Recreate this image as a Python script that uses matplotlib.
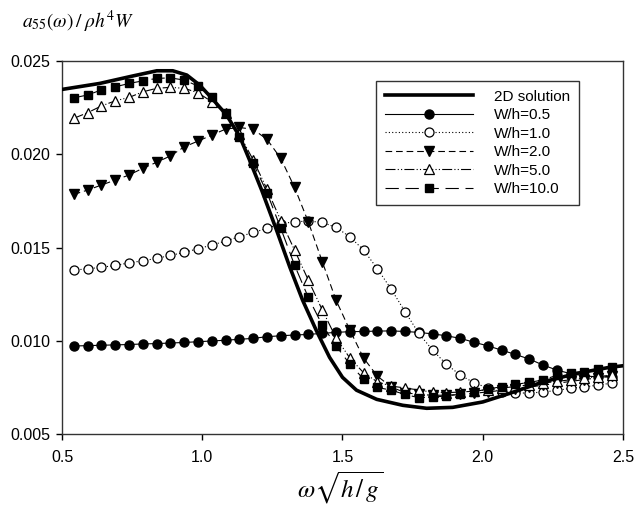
import matplotlib
matplotlib.use('Agg')
import matplotlib.pyplot as plt

plt.rcParams['font.family'] = ['Liberation Sans', 'DejaVu Sans']
plt.rcParams['mathtext.fontset'] = 'stix'

# frequency grid shared by the 3D results
omega = [0.542, 0.591, 0.640, 0.690, 0.739, 0.788, 0.837, 0.886, 0.936, 0.985,
         1.034, 1.083, 1.132, 1.182, 1.231, 1.280, 1.329, 1.378, 1.428, 1.477,
         1.526, 1.575, 1.624, 1.674, 1.723, 1.772, 1.821, 1.870, 1.920, 1.969,
         2.018, 2.067, 2.116, 2.166, 2.215, 2.264, 2.313, 2.362, 2.412, 2.461]

wh_05 = [0.00972, 0.00974, 0.00976, 0.00978, 0.00980, 0.00983, 0.00985, 0.00988, 0.00991, 0.00995,
         0.00999, 0.01003, 0.01008, 0.01013, 0.01022, 0.01027, 0.01031, 0.01034, 0.01040, 0.01045,
         0.01049, 0.01050, 0.01052, 0.01053, 0.01050, 0.01045, 0.01037, 0.01027, 0.01013, 0.00992,
         0.00973, 0.00950, 0.00927, 0.00902, 0.00870, 0.00843, 0.00824, 0.00812, 0.00806, 0.00806]

wh_10 = [0.01379, 0.01386, 0.01394, 0.01404, 0.01418, 0.01429, 0.01442, 0.01458, 0.01474, 0.01494,
         0.01513, 0.01535, 0.01558, 0.01581, 0.01603, 0.01628, 0.01638, 0.01642, 0.01635, 0.01608,
         0.01558, 0.01487, 0.01387, 0.01276, 0.01156, 0.01040, 0.00950, 0.00875, 0.00816, 0.00775,
         0.00747, 0.00727, 0.00720, 0.00720, 0.00725, 0.00734, 0.00745, 0.00752, 0.00763, 0.00773]

wh_20 = [0.01785, 0.01808, 0.01835, 0.01862, 0.01889, 0.01925, 0.01957, 0.01991, 0.02040, 0.02071,
         0.02103, 0.02135, 0.02144, 0.02134, 0.02080, 0.01978, 0.01823, 0.01638, 0.01424, 0.01218,
         0.01058, 0.00908, 0.00811, 0.00752, 0.00722, 0.00712, 0.00708, 0.00708, 0.00712, 0.00718,
         0.00726, 0.00734, 0.00742, 0.00752, 0.00762, 0.00772, 0.00782, 0.00792, 0.00802, 0.00812]

wh_50 = [0.02193, 0.02223, 0.02259, 0.02287, 0.02305, 0.02335, 0.02354, 0.02359, 0.02354, 0.02330,
         0.02282, 0.02220, 0.02109, 0.01969, 0.01812, 0.01645, 0.01487, 0.01326, 0.01165, 0.01016,
         0.00908, 0.00829, 0.00780, 0.00757, 0.00747, 0.00736, 0.00724, 0.00722, 0.00725, 0.00730,
         0.00738, 0.00746, 0.00755, 0.00764, 0.00773, 0.00782, 0.00791, 0.00800, 0.00808, 0.00816]

wh_100 = [0.02303, 0.02318, 0.02345, 0.02362, 0.02380, 0.02394, 0.02407, 0.02410, 0.02398, 0.02366,
          0.02309, 0.02223, 0.02094, 0.01951, 0.01794, 0.01603, 0.01406, 0.01233, 0.01084, 0.00973,
          0.00875, 0.00795, 0.00750, 0.00735, 0.00712, 0.00695, 0.00698, 0.00704, 0.00714, 0.00727,
          0.00741, 0.00754, 0.00766, 0.00777, 0.00790, 0.00815, 0.00829, 0.00834, 0.00847, 0.00861]

# 2D strip-theory curve
omega_2d = [0.50, 0.634, 0.752, 0.838, 0.895, 0.945, 0.991, 1.037, 1.087, 1.134,
            1.169, 1.212, 1.265, 1.312, 1.358, 1.408, 1.454, 1.500, 1.550, 1.622,
            1.715, 1.800, 1.893, 2.000, 2.096, 2.214, 2.335, 2.453, 2.50]
a55_2d = [0.02348, 0.02380, 0.02420, 0.02448, 0.02448, 0.02425, 0.02371, 0.02296, 0.02210, 0.02094,
          0.01968, 0.01807, 0.01593, 0.01396, 0.01217, 0.01051, 0.00911, 0.00804, 0.00735, 0.00686,
          0.00654, 0.00638, 0.00643, 0.00672, 0.00718, 0.00779, 0.00825, 0.00858, 0.00866]

fig = plt.figure(figsize=(6.36, 5.09), dpi=100)
ax = fig.add_axes([0.0975, 0.1473, 0.882, 0.7327])

ax.plot(omega_2d, a55_2d, color='black', lw=2.6, label='2D solution', zorder=5)
ax.plot(omega, wh_05, color='black', lw=0.8, ls='-', marker='o', ms=6.5,
        mfc='black', mec='black', label='W/h=0.5')
ax.plot(omega, wh_10, color='black', lw=0.8, ls=(0, (1, 2)), marker='o', ms=6.5,
        mfc='white', mec='black', mew=0.9, label='W/h=1.0')
ax.plot(omega, wh_20, color='black', lw=0.8, ls=(0, (6, 3.5)), marker='v', ms=7,
        mfc='black', mec='black', label='W/h=2.0')
ax.plot(omega, wh_50, color='black', lw=0.8, ls=(0, (9, 2, 1, 2, 1, 2)), marker='^', ms=7,
        mfc='white', mec='black', mew=0.9, label='W/h=5.0')
ax.plot(omega, wh_100, color='black', lw=0.8, ls=(0, (12, 6)), marker='s', ms=6,
        mfc='black', mec='black', label='W/h=10.0')

ax.set_xlim(0.5, 2.5)
ax.set_ylim(0.005, 0.025)
ax.set_xticks([0.5, 1.0, 1.5, 2.0, 2.5])
ax.set_xticklabels(['0.5', '1.0', '1.5', '2.0', '2.5'])
ax.set_yticks([0.005, 0.010, 0.015, 0.020, 0.025])
ax.set_yticklabels(['0.005', '0.010', '0.015', '0.020', '0.025'])
ax.tick_params(direction='out', length=4.5, width=1, labelsize=11.5, top=False, right=False)
ax.tick_params(axis='y', pad=4)
ax.tick_params(axis='x', pad=7)
for sp in ax.spines.values():
    sp.set_linewidth(1.0)
    sp.set_color('#333333')

leg = ax.legend(loc='upper right', bbox_to_anchor=(0.935, 0.968), fontsize=11,
                handlelength=5.75, numpoints=1, frameon=True, fancybox=False,
                edgecolor='black', borderpad=0.6, labelspacing=0.29, handletextpad=1.37)
leg.get_frame().set_linewidth(1.0)

fig.text(0.035, 0.957, r'$a_{55}(\omega)\,/\;\rho h^4 W$', fontsize=14, va='center', ha='left')
fig.text(0.535, 0.041, r'$\omega\sqrt{h\,/\,g}$', fontsize=18, va='center', ha='center')

fig.savefig('out.png', dpi=100)
